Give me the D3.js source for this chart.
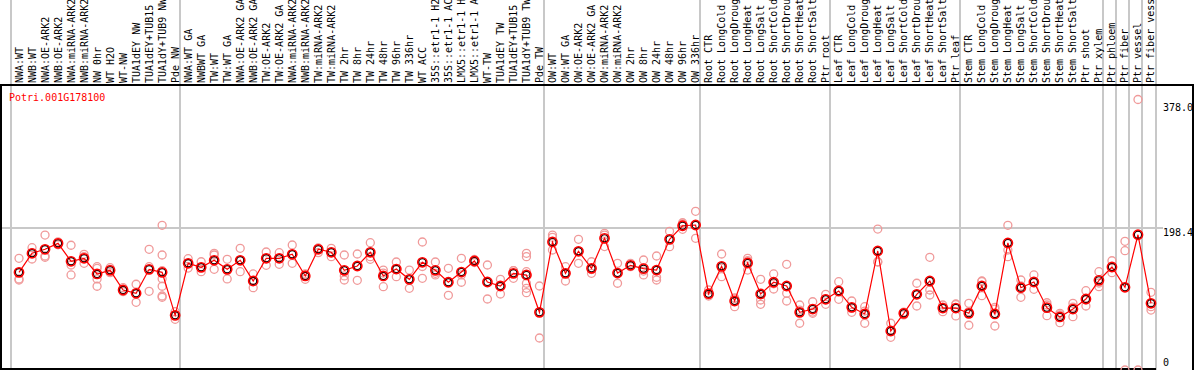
<!DOCTYPE html>
<html>
<head>
<meta charset="utf-8">
<script src="https://cdn.jsdelivr.net/npm/d3@7"></script>
<style>
  body { margin: 0; background: #fff; }
  svg { display: block; font-family: "DejaVu Sans Mono", monospace; }
</style>
</head>
<body>
<div id="chart"></div>
<script>
const geneId = "Potri.001G178100";

const categories = [
    "NWA:WT", "NWB:WT", "NWA:OE-ARK2", "NWB:OE-ARK2", "NWA:miRNA-ARK2", "NWB:miRNA-ARK2",
    "NW 0hr", "WT H2O", "WT-NW", "TUA1dEY NW", "TUA1dEY+TUB15 NW", "TUA1dY+TUB9 NW", "Pde NW",
    "NWA:WT GA", "NWBWT GA", "TW:WT", "TW:WT GA", "NWA:OE-ARK2 GA", "NWB:OE-ARK2 GA",
    "TW:OE-ARK2", "TW:OE-ARK2 GA", "NWA:miRNA-ARK2 GA", "NWB:miRNA-ARK2 GA", "TW:miRNA-ARK2",
    "TW:miRNA-ARK2", "TW 2hr", "TW 8hr", "TW 24hr", "TW 48hr", "TW 96hr", "TW 336hr", "WT ACC",
    "35S::etr1-1 H2O", "35S::etr1-1 ACC", "LMX5::etr1-1 H2O", "LMX5::etr1-1 ACC", "WT-TW",
    "TUA1dEY TW", "TUA1dEY+TUB15 TW", "TUA1dY+TUB9 TW", "Pde TW",
    "OW:WT", "OW:WT GA", "OW:OE-ARK2", "OW:OE-ARK2 GA", "OW:miRNA-ARK2", "OW:miRNA-ARK2",
    "OW 2hr", "OW 8hr", "OW 24hr", "OW 48hr", "OW 96hr", "OW 336hr",
    "Root CTR", "Root LongCold", "Root LongDrought", "Root LongHeat", "Root LongSalt",
    "Root ShortCold", "Root ShortDrought", "Root ShortHeat", "Root ShortSalt", "Ptr root",
    "Leaf CTR", "Leaf LongCold", "Leaf LongDrought", "Leaf LongHeat", "Leaf LongSalt",
    "Leaf ShortCold", "Leaf ShortDrought", "Leaf ShortHeat", "Leaf ShortSalt", "Ptr leaf",
    "Stem CTR", "Stem LongCold", "Stem LongDrought", "Stem LongHeat", "Stem LongSalt",
    "Stem ShortCold", "Stem ShortDrought", "Stem ShortHeat", "Stem ShortSalt",
    "Ptr shoot", "Ptr xylem", "Ptr phloem", "Ptr fiber", "Ptr vessel", "Ptr fiber vessel"
];

const means = [
    136.5, 163.1, 168.7, 177.0, 151.9, 156.1, 134.2, 139.3, 111.8, 107.2, 140.7, 136.5, 76.4,
    149.1, 143.5, 153.3, 140.7, 153.3, 124.4, 156.1, 156.1, 161.7, 131.4, 168.7, 164.5,
    139.3, 145.3, 164.5, 131.4, 141.1, 126.7, 150.5, 139.3, 122.6, 136.9, 152.3, 123.0,
    117.4, 135.1, 132.8, 80.6,
    178.9, 135.1, 165.9, 142.1, 184.0, 135.5, 146.3, 141.6, 139.7, 182.6, 201.6, 202.6,
    106.6, 144.9, 96.4, 149.5, 106.2, 122.6, 117.4, 80.6, 85.2, 98.8,
    110.4, 87.6, 78.3, 166.3, 54.5, 79.2, 105.8, 124.4, 86.6, 86.6,
    79.2, 117.4, 78.3, 177.5, 115.0, 123.0, 87.1, 74.1, 85.2,
    99.2, 125.3, 143.9, 115.6, 189.0, 93.2
];

const replicates = [
    [156.1, 127.2, 125.8], [170.9, 163.5, 155.1], [188.6, 159.3, 157.5], [179, 177, 175],
    [174.3, 146.7, 132.8], [161.7, 158.3, 149.1], [144.4, 142.1, 127.2, 117.0], [143.0, 140.7, 136.0],
    [115.0, 111.8, 109.4], [119.8, 107.2, 94.6], [168.7, 144.4, 110.0],
    [202.2, 160.7, 138.8, 127.6, 117.0, 103.4, 101.6], [81.5, 76.4, 70.8],
    [155.5, 149.1, 142.5], [151.3, 143.5, 137.4], [163.1, 160.7, 140.7], [154.7, 140.7, 127.2],
    [170.1, 153.3, 137.4], [134.2, 124.4, 115.0], [164.9, 156.1, 146.3], [163.9, 156.1, 147.7],
    [174.7, 161.7, 149.1], [134.2, 132.8, 126.7], [170.5, 170.1, 163.9], [170.1, 164.5, 158.3],
    [160.7, 131.4, 125.8], [162.1, 145.3, 125.3], [177.9, 158.3, 154.7], [139.7, 135.5, 116.4],
    [150.9, 141.1, 130.4], [139.7, 126.7, 114.2], [178.9, 144.6, 128.1], [150.9, 135.1, 132.8],
    [142.1, 122.6, 104.4], [156.1, 132.8, 122.6], [154.4, 152.3, 150.2], [146.7, 123.0, 99.2],
    [126.7, 117.4, 106.2], [139.0, 138.8, 128.1], [163.1, 158.3, 137.4, 121.2, 114.2, 108.0],
    [117.4, 44.7],
    [188.6, 185.4, 167.7], [144.4, 135.5, 124.4], [182.6, 165.9, 149.1], [151.3, 140.4, 135.1],
    [191.0, 188.6, 172.5], [149.1, 136.2, 121.2], [149.1, 145.3, 144.4], [153.7, 138.3, 132.8],
    [159.3, 139.7, 129.5, 125.8], [193.8, 182.4, 172.3], [205.8, 204.0, 196.6], [221.8, 202.6, 184.0],
    [111.8, 104.8, 103.4], [162.1, 142.5, 130.4], [100.6, 100.2, 88.5], [156.1, 152.7, 139.7],
    [126.7, 97.8, 91.8], [134.2, 120.5, 113.2], [147.7, 107.2, 96.4], [90.8, 83.8, 65.3],
    [95.4, 81.0, 79.2], [105.8, 99.2, 91.8],
    [123.4, 110.4, 98.8], [96.4, 86.6, 80.6], [88.5, 82.4, 65.3], [197.0, 151.3, 150.9],
    [65.3, 54.5, 45.7], [81.0, 79.6, 76.9], [121.2, 105.5, 89.4], [157.5, 111.8, 104.8],
    [90.8, 88.0, 81.5], [92.2, 91.5, 75.5],
    [93.2, 81.7, 62.5], [124.4, 123.7, 103.8], [87.6, 85.2, 61.5], [202.2, 167.7, 158.3],
    [125.8, 117.4, 101.6], [132.8, 123.0, 112.8], [94.0, 90.8, 75.9], [79.2, 76.9, 66.1],
    [93.2, 88.0, 74.5],
    [110.8, 97.8, 89.4], [137.4, 121.6, 116.4], [152.7, 143.2, 136.0], [179.8, 166.7, 0],
    [378.0, 0], [108.6, 88.5, 83.8]
];

// index of the first category of each group (last entry = end of the row)
const groupStarts = [0, 13, 41, 53, 63, 73, 84, 85, 86, 87, 88];
const tickValues = [0, 198.4, 378.0];
const tickLabels = ["0", "198.4", "378.0"];

const width = 1194, height = 370;
const headerY = 85;

const svg = d3.select("#chart")
    .append("svg")
    .attr("width", width)
    .attr("height", height);

const xScale = d3.scaleBand()
    .domain(d3.range(categories.length))
    .range([10.5, 1155.5]);

const yScale = d3.scaleLinear()
    .domain([0, 378])
    .range([370, 99.5]);

const cx = i => xScale(i) + xScale.bandwidth() / 2 + 2;
const edge = i => i < categories.length ? xScale(i) : xScale(i - 1) + xScale.bandwidth();

// group separators
svg.selectAll(".sep")
    .data(groupStarts)
    .enter()
    .append("line")
    .attr("class", "sep")
    .attr("x1", d => Math.round(edge(d)))
    .attr("x2", d => Math.round(edge(d)))
    .attr("y1", 0)
    .attr("y2", height)
    .attr("stroke", "#c8c8c8")
    .attr("stroke-width", 2);

// horizontal reference line at the middle tick
svg.append("line")
    .attr("x1", 0)
    .attr("x2", 1163)
    .attr("y1", Math.round(yScale(tickValues[1])))
    .attr("y2", Math.round(yScale(tickValues[1])))
    .attr("stroke", "#c8c8c8")
    .attr("stroke-width", 2);

// frame
svg.append("line").attr("x1", 0).attr("x2", width).attr("y1", headerY).attr("y2", headerY)
    .attr("stroke", "#000").attr("stroke-width", 2);
svg.append("line").attr("x1", 1).attr("x2", 1).attr("y1", headerY).attr("y2", height)
    .attr("stroke", "#000").attr("stroke-width", 2);
svg.append("line").attr("x1", 0).attr("x2", Math.round(edge(categories.length))).attr("y1", 369).attr("y2", 369)
    .attr("stroke", "#000").attr("stroke-width", 2);
svg.append("line").attr("x1", 1193).attr("x2", 1193).attr("y1", headerY).attr("y2", height)
    .attr("stroke", "#000").attr("stroke-width", 2);

// category labels (long ones run off the top, as in the original)
svg.selectAll(".cat")
    .data(categories)
    .enter()
    .append("text")
    .attr("class", "cat")
    .attr("transform", (d, i) => `translate(${cx(i) + 3.5},83) rotate(-90)`)
    .attr("font-size", "10px")
    .attr("fill", "#000")
    .text(d => d);

// replicate points
const repPoints = replicates.flatMap((vals, i) => vals.map(v => ({ i, v })));
svg.selectAll(".rep")
    .data(repPoints)
    .enter()
    .append("circle")
    .attr("class", "rep")
    .attr("cx", d => cx(d.i))
    .attr("cy", d => yScale(d.v))
    .attr("r", 4)
    .attr("fill", "none")
    .attr("stroke", "#f09a9a")
    .attr("stroke-width", 1.3);

// mean line
const line = d3.line()
    .x((d, i) => cx(i))
    .y(d => yScale(d));

svg.append("path")
    .datum(means)
    .attr("d", line)
    .attr("fill", "none")
    .attr("stroke", "#ff0000")
    .attr("stroke-width", 1.2);

// mean markers: red ring with a dark inner edge
svg.selectAll(".mean-in")
    .data(means)
    .enter()
    .append("circle")
    .attr("cx", (d, i) => cx(i))
    .attr("cy", d => yScale(d))
    .attr("r", 3.6)
    .attr("fill", "none")
    .attr("stroke", "#000")
    .attr("stroke-width", 1.2);

svg.selectAll(".mean")
    .data(means)
    .enter()
    .append("circle")
    .attr("cx", (d, i) => cx(i))
    .attr("cy", d => yScale(d))
    .attr("r", 4.6)
    .attr("fill", "none")
    .attr("stroke", "#ff0000")
    .attr("stroke-width", 1.6);

// gene id
svg.append("text")
    .attr("x", 9)
    .attr("y", 101)
    .attr("font-size", "10px")
    .attr("fill", "#ff0000")
    .text(geneId);

// value labels on the right
const labelShift = [-4.5, 8, 11];
svg.selectAll(".ytick")
    .data(tickValues)
    .enter()
    .append("text")
    .attr("class", "ytick")
    .attr("x", 1163)
    .attr("y", (d, i) => yScale(d) + labelShift[i])
    .attr("font-size", "10px")
    .attr("fill", "#000")
    .text((d, i) => tickLabels[i]);
</script>
</body>
</html>
